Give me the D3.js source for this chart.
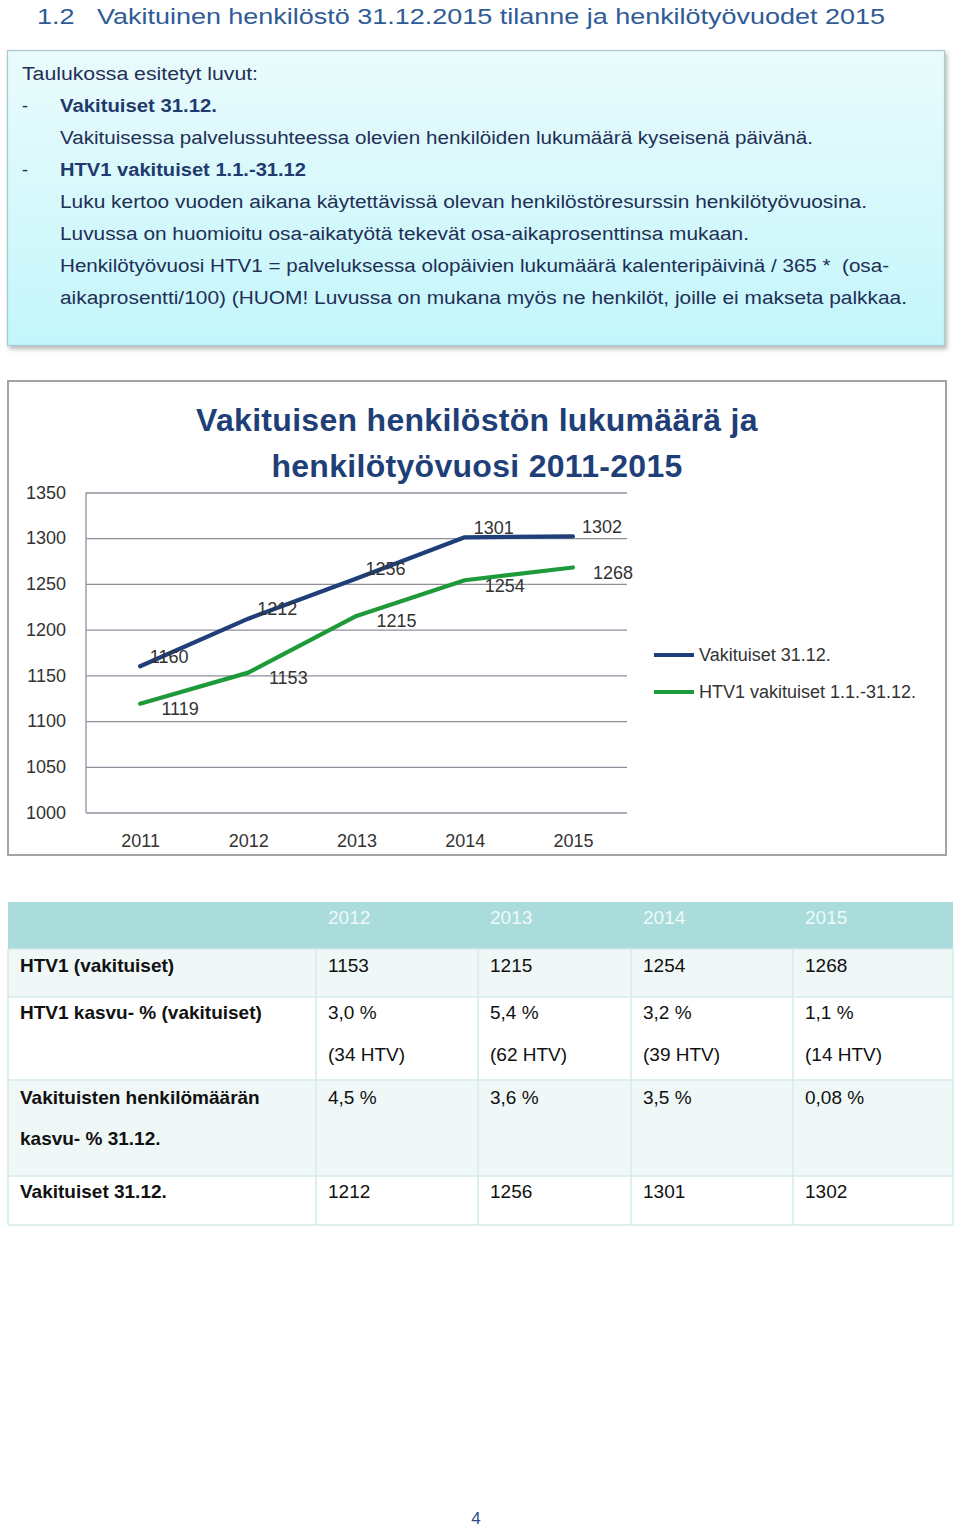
<!DOCTYPE html>
<html>
<head>
<meta charset="utf-8">
<script src="https://cdn.jsdelivr.net/npm/d3@7"></script>
<style>
  html, body { margin: 0; padding: 0; background: #fff; }
  svg { display: block; font-family: "Liberation Sans", Arial, sans-serif; }
</style>
</head>
<body>
<svg id="page" width="960" height="1530"></svg>
<script>
// ---------- DATA ----------
const pageTitle = "1.2   Vakituinen henkilöstö 31.12.2015 tilanne ja henkilötyövuodet 2015";
const infoLines = [
  { dash: false, bold: false, text: "Taulukossa esitetyt luvut:" },
  { dash: true,  bold: true,  text: "Vakituiset 31.12." },
  { dash: false, bold: false, text: "Vakituisessa palvelussuhteessa olevien henkilöiden lukumäärä kyseisenä päivänä." },
  { dash: true,  bold: true,  text: "HTV1 vakituiset 1.1.-31.12" },
  { dash: false, bold: false, text: "Luku kertoo vuoden aikana käytettävissä olevan henkilöstöresurssin henkilötyövuosina." },
  { dash: false, bold: false, text: "Luvussa on huomioitu osa-aikatyötä tekevät osa-aikaprosenttinsa mukaan." },
  { dash: false, bold: false, text: "Henkilötyövuosi HTV1 = palveluksessa olopäivien lukumäärä kalenteripäivinä / 365 *  (osa-" },
  { dash: false, bold: false, text: "aikaprosentti/100) (HUOM! Luvussa on mukana myös ne henkilöt, joille ei makseta palkkaa." }
];

const chartTitle = ["Vakituisen henkilöstön lukumäärä ja", "henkilötyövuosi 2011-2015"];
const years = ["2011", "2012", "2013", "2014", "2015"];
const vakituiset = [1160, 1212, 1256, 1301, 1302];
const htv1 = [1119, 1153, 1215, 1254, 1268];
const yTicks = [1000, 1050, 1100, 1150, 1200, 1250, 1300, 1350];
const seriesNames = ["Vakituiset 31.12.", "HTV1 vakituiset 1.1.-31.12."];

const tableYears = ["2012", "2013", "2014", "2015"];
const rowLabels = [
  ["HTV1 (vakituiset)"],
  ["HTV1 kasvu- % (vakituiset)"],
  ["Vakituisten henkilömäärän", "kasvu- % 31.12."],
  ["Vakituiset 31.12."]
];
const htvValues = ["1153", "1215", "1254", "1268"];
const htvGrowth = ["3,0 %", "5,4 %", "3,2 %", "1,1 %"];
const htvGrowthAbs = ["(34 HTV)", "(62 HTV)", "(39 HTV)", "(14 HTV)"];
const headcountGrowth = ["4,5 %", "3,6 %", "3,5 %", "0,08 %"];
const vakValues = ["1212", "1256", "1301", "1302"];
const pageNumber = "4";

// ---------- DRAW ----------
const svg = d3.select("#page");
const defs = svg.append("defs");

function fitText(sel, width) {
  sel.each(function () {
    const w = this.getComputedTextLength();
    if (Math.abs(w - width) > 2) {
      d3.select(this).attr("textLength", width).attr("lengthAdjust", "spacingAndGlyphs");
    }
  });
}

// Page title
svg.append("text")
  .attr("x", 37).attr("y", 24)
  .attr("font-size", 22).attr("fill", "#2f5b96")
  .attr("xml:space", "preserve")
  .text(pageTitle)
  .call(fitText, 848);

// Info box
const grad = defs.append("linearGradient").attr("id", "boxGrad")
  .attr("x1", 0).attr("y1", 0).attr("x2", 0).attr("y2", 1);
grad.append("stop").attr("offset", "0%").attr("stop-color", "#eafbfc");
grad.append("stop").attr("offset", "100%").attr("stop-color", "#c3f6fb");
const shadow = defs.append("filter").attr("id", "shadow")
  .attr("x", "-5%").attr("y", "-5%").attr("width", "110%").attr("height", "115%");
shadow.append("feDropShadow").attr("dx", 2).attr("dy", 3).attr("stdDeviation", 2)
  .attr("flood-color", "#888").attr("flood-opacity", 0.6);

svg.append("rect")
  .attr("x", 7.5).attr("y", 50.5).attr("width", 937).attr("height", 295)
  .attr("fill", "url(#boxGrad)").attr("stroke", "#a9c9cf").attr("stroke-width", 1.2)
  .attr("filter", "url(#shadow)");

const infoWidths = [236, 157, 753, 246, 807, 689, 829, 847];
const infoG = svg.append("g");
infoLines.forEach((d, i) => {
  const y = 80 + i * 32;
  if (d.dash) {
    infoG.append("text").attr("x", 22).attr("y", y).attr("font-size", 18)
      .attr("fill", "#1f2f55").text("-");
  }
  infoG.append("text")
    .attr("x", i === 0 ? 22 : 60).attr("y", y)
    .attr("font-size", 18)
    .attr("font-weight", d.bold ? "bold" : "normal")
    .attr("fill", d.bold ? "#1f3a6e" : "#1f2f55")
    .attr("xml:space", "preserve")
    .text(d.text)
    .call(fitText, infoWidths[i]);
});

// Chart frame
svg.append("rect")
  .attr("x", 8).attr("y", 381).attr("width", 938).attr("height", 474)
  .attr("fill", "#fff").attr("stroke", "#a3a3a3").attr("stroke-width", 2);

// Chart title
svg.append("g").selectAll("text").data(chartTitle).join("text")
  .attr("x", 477).attr("y", (d, i) => 431 + i * 46)
  .attr("text-anchor", "middle")
  .attr("font-size", 32).attr("font-weight", "bold")
  .attr("letter-spacing", 0.3)
  .attr("fill", "#1f3f78")
  .text(d => d);

// Scales
const x = d3.scalePoint().domain(years).range([86, 627]).padding(0.5);
const y = d3.scaleLinear().domain([1000, 1350]).range([812.5, 492.5]);

// Gridlines
svg.append("g")
  .attr("transform", "translate(86,0)")
  .call(d3.axisLeft(y).tickValues(yTicks).tickSize(-541).tickFormat(""))
  .call(g => g.select(".domain").remove())
  .call(g => g.selectAll("line").attr("stroke", "#8f8f9c").attr("stroke-width", 1.3));

// Left axis line
svg.append("line")
  .attr("x1", 86).attr("x2", 86).attr("y1", y(1350)).attr("y2", y(1000))
  .attr("stroke", "#8f8f9c").attr("stroke-width", 1.3);

// Y axis labels
svg.append("g")
  .attr("transform", "translate(86,0)")
  .call(d3.axisLeft(y).tickValues(yTicks).tickSize(0).tickPadding(20).tickFormat(d3.format("d")))
  .call(g => g.select(".domain").remove())
  .call(g => g.selectAll("text").attr("font-size", 18).attr("fill", "#333")
    .attr("font-family", "Liberation Sans, Arial, sans-serif"));

// X axis labels
svg.append("g")
  .attr("transform", `translate(0,${y(1000)})`)
  .call(d3.axisBottom(x).tickSize(0).tickPadding(22))
  .call(g => g.select(".domain").remove())
  .call(g => g.selectAll("text").attr("font-size", 18).attr("fill", "#333")
    .attr("font-family", "Liberation Sans, Arial, sans-serif"));

// Lines
const series = [
  { name: seriesNames[0], values: vakituiset, color: "#1f3f7a", dx: 29, dy: -10 },
  { name: seriesNames[1], values: htv1, color: "#1f9a3b", dx: 40, dy: 5 }
];
const line = d3.line().x((d, i) => x(years[i])).y(d => y(d));
svg.append("g").selectAll("path").data(series).join("path")
  .attr("d", s => line(s.values))
  .attr("fill", "none")
  .attr("stroke", s => s.color)
  .attr("stroke-width", 4.2)
  .attr("stroke-linecap", "round")
  .attr("stroke-linejoin", "round");

// Data labels
series.forEach(s => {
  svg.append("g").selectAll("text").data(s.values).join("text")
    .attr("x", (d, i) => x(years[i]) + s.dx)
    .attr("y", d => y(d) + s.dy)
    .attr("dy", "0.35em")
    .attr("text-anchor", "middle")
    .attr("font-size", 18).attr("fill", "#333")
    .text(d => d);
});

// Legend
const legend = svg.append("g").selectAll("g").data(series).join("g")
  .attr("transform", (d, i) => `translate(654,${655 + i * 37})`);
legend.append("line").attr("x1", 0).attr("x2", 40)
  .attr("stroke", d => d.color).attr("stroke-width", 4.2);
legend.append("text").attr("x", 45).attr("dy", "0.35em")
  .attr("font-size", 18).attr("fill", "#333").text(d => d.name);

// ---------- TABLE ----------
const colX = [8, 316, 478, 631, 793, 953];
const rowY = [902, 949, 997, 1080, 1176, 1225];
const rowFill = ["#a9dcdb", "#eff7f7", "#ffffff", "#eff7f7", "#ffffff"];
const tbl = svg.append("g");

tbl.selectAll("rect.row").data(rowFill).join("rect")
  .attr("class", "row")
  .attr("x", colX[0]).attr("width", colX[5] - colX[0])
  .attr("y", (d, i) => rowY[i]).attr("height", (d, i) => rowY[i + 1] - rowY[i])
  .attr("fill", d => d);

tbl.selectAll("line.h").data(rowY.slice(1)).join("line")
  .attr("class", "h")
  .attr("x1", colX[0]).attr("x2", colX[5])
  .attr("y1", d => d).attr("y2", d => d)
  .attr("stroke", "#d6ebeb").attr("stroke-width", 1.6);
tbl.selectAll("line.v").data(colX).join("line")
  .attr("class", "v")
  .attr("x1", d => d).attr("x2", d => d)
  .attr("y1", rowY[1]).attr("y2", rowY[5])
  .attr("stroke", "#d6ebeb").attr("stroke-width", 1.6);

tbl.selectAll("text.hy").data(tableYears).join("text")
  .attr("class", "hy")
  .attr("x", (d, i) => colX[i + 1] + 12).attr("y", 924)
  .attr("font-size", 19).attr("fill", "#eef9f9")
  .text(d => d);

const labelBase = [972, 1019, 1104, 1198];
rowLabels.forEach((lines, r) => {
  tbl.selectAll(null).data(lines).join("text")
    .attr("x", 20).attr("y", (d, k) => labelBase[r] + k * 41)
    .attr("font-size", 19).attr("font-weight", "bold").attr("fill", "#111")
    .attr("xml:space", "preserve")
    .text(d => d);
});

const valueRows = [
  { vals: htvValues, base: 972 },
  { vals: htvGrowth, base: 1019 },
  { vals: htvGrowthAbs, base: 1061 },
  { vals: headcountGrowth, base: 1104 },
  { vals: vakValues, base: 1198 }
];
valueRows.forEach(vr => {
  tbl.selectAll(null).data(vr.vals).join("text")
    .attr("x", (d, i) => colX[i + 1] + 12).attr("y", vr.base)
    .attr("font-size", 19).attr("fill", "#111")
    .text(d => d);
});

// Page number
svg.append("text")
  .attr("x", 476).attr("y", 1524).attr("text-anchor", "middle")
  .attr("font-size", 17).attr("fill", "#2f4f80")
  .text(pageNumber);
</script>
</body>
</html>
